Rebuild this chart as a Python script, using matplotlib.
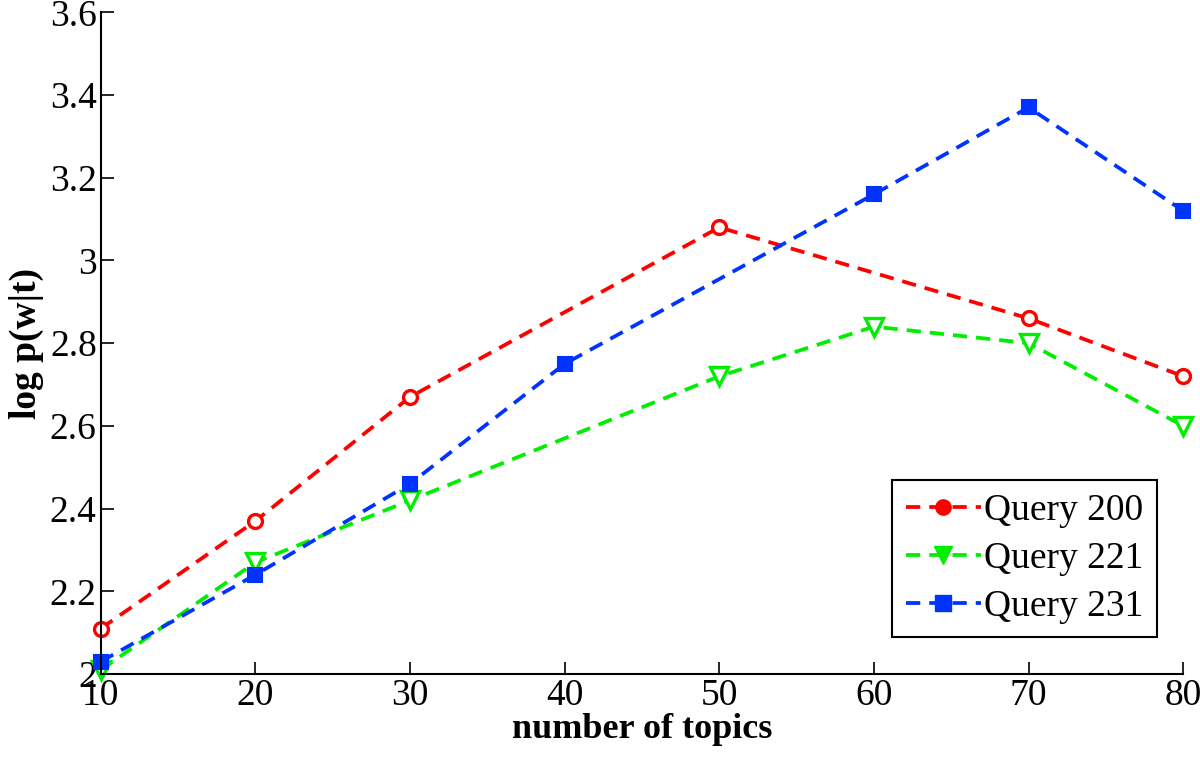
import matplotlib
matplotlib.use('Agg')
import matplotlib.pyplot as plt
from matplotlib.lines import Line2D

plt.rcParams['font.family'] = ['Liberation Serif', 'DejaVu Serif']

# data
x_200 = [10, 20, 30, 50, 70, 80]
y_200 = [2.11, 2.37, 2.67, 3.08, 2.86, 2.72]

x_221 = [10, 20, 30, 50, 60, 70, 80]
y_221 = [2.01, 2.27, 2.42, 2.72, 2.84, 2.80, 2.60]

x_231 = [10, 20, 30, 40, 60, 70, 80]
y_231 = [2.03, 2.24, 2.46, 2.75, 3.16, 3.37, 3.12]

labels = ['Query 200', 'Query 221', 'Query 231']
colors = ['#ff0000', '#00ee00', '#0033ff']

xticks = [10, 20, 30, 40, 50, 60, 70, 80]
yticks = [2, 2.2, 2.4, 2.6, 2.8, 3, 3.2, 3.4, 3.6]
ytick_labels = ['2', '2.2', '2.4', '2.6', '2.8', '3', '3.2', '3.4', '3.6']

fig = plt.figure(figsize=(12, 7.69), dpi=100)
ax = fig.add_axes([0.084, 0.1235, 0.902, 0.8605])

lw = 2.7
dash = (3.8, 2.4)
ax.plot(x_200, y_200, color=colors[0], lw=lw, dashes=dash, marker='o',
        ms=10, mfc='white', mec=colors[0], mew=2.4, clip_on=False)
ax.plot(x_221, y_221, color=colors[1], lw=lw, dashes=dash, marker='v',
        ms=13, mfc='white', mec=colors[1], mew=2.4, clip_on=False)
ax.plot(x_231, y_231, color=colors[2], lw=lw, dashes=dash, marker='s',
        ms=10, mfc=colors[2], mec=colors[2], mew=1.5, clip_on=False)

ax.set_xlim(10, 80)
ax.set_ylim(2, 3.6)
ax.set_xticks(xticks)
ax.set_yticks(yticks)
ax.set_yticklabels(ytick_labels)
ax.spines['top'].set_visible(False)
ax.spines['right'].set_visible(False)
ax.spines['left'].set_linewidth(1.5)
ax.spines['bottom'].set_linewidth(1.5)
ax.tick_params(direction='in', length=9, width=1.2, labelsize=27, pad=3)

ax.set_xlabel('number of topics', fontsize=26, fontweight='bold', labelpad=0)
ax.set_ylabel('log p(w|t)', fontsize=27, fontweight='bold', labelpad=4)

handles = [
    Line2D([], [], color=colors[0], lw=lw, dashes=dash, marker='o', ms=11,
           mfc=colors[0], mec=colors[0]),
    Line2D([], [], color=colors[1], lw=lw, dashes=dash, marker='v', ms=13,
           mfc=colors[1], mec=colors[1]),
    Line2D([], [], color=colors[2], lw=lw, dashes=dash, marker='s', ms=11,
           mfc=colors[2], mec=colors[2]),
]
leg = ax.legend(handles, labels, loc='lower right', bbox_to_anchor=(0.993, 0.028),
                fontsize=27, handlelength=2.0, handletextpad=0.1,
                borderpad=0.35, labelspacing=0.36, fancybox=False,
                edgecolor='black', framealpha=1)
leg.get_frame().set_linewidth(1.5)

fig.savefig('out.png', dpi=100)
